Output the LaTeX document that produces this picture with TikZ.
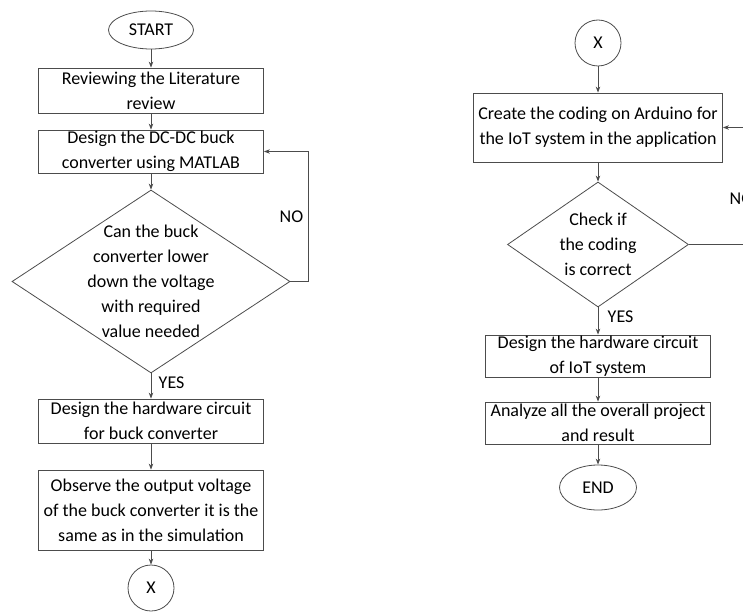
\documentclass[tikz,border=0pt]{standalone}
\usepackage{fontspec}
\setmainfont{Carlito}
\usetikzlibrary{shapes.geometric,arrows.meta}

\begin{document}
\begin{tikzpicture}[x=1pt,y=-1pt,line width=.8pt,
  every node/.style={font=\fontsize{18}{25}\selectfont},
  box/.style={draw=black!70,rectangle,align=center,minimum width=225pt,inner sep=0pt},
  term/.style={draw=black!70,ellipse,inner sep=0pt},
  conn/.style={draw=black!70,circle,minimum size=46pt,inner sep=0pt},
  decision/.style={draw=black!70,diamond,align=center,inner sep=0pt},
  flow/.style={-{Stealth[length=6pt,width=4.5pt]},draw=black!70}]
\useasboundingbox (0,0) rectangle (743,612);
% left column
\node[term,minimum width=85pt,minimum height=38pt] (start) at (151,30) {START};
\node[box,minimum height=45pt] (rev) at (151,90.5) {Reviewing the Literature\\review};
\node[box,minimum height=43pt] (dsg) at (151,151.5) {Design the DC-DC buck\\converter using MATLAB};
\node[decision,inner sep=-10pt,shape aspect=1.52,minimum width=278pt,minimum height=183pt] (chk1) at (151,281.5)
  {Can the buck\\converter lower\\down the voltage\\with required\\value needed};
\node[box,minimum height=44pt] (hw1) at (151,421) {Design the hardware circuit\\for buck converter};
\node[box,minimum height=80pt] (obs) at (151,510) {Observe the output voltage\\of the buck converter it is the\\same as in the simulation};
\node[conn] (xout) at (151,588) {X};
\draw[flow] (start)--(rev);\draw[flow] (rev)--(dsg);\draw[flow] (dsg)--(chk1);
\draw[flow] (chk1)--(hw1);\draw[flow] (hw1)--(obs);\draw[flow] (obs)--(xout);
\draw[flow] (chk1.east)--++(18,0)|-(dsg.east);
\node[anchor=east] (no1) at (307,217) {NO};
\node[anchor=west] (yes1) at (155,383) {YES};
% right column
\node[conn] (xin) at (598,43) {X};
\node[box,minimum width=249pt,minimum height=69pt] (code) at (598,127.5) {Create the coding on Arduino for\\the IoT system in the application};
\node[decision,shape aspect=1.45,minimum width=181pt,minimum height=125pt] (chk2) at (598,244.5) {Check if\\the coding\\is correct};
\node[box,minimum height=42pt] (hw2) at (598,356) {Design the hardware circuit\\of IoT system};
\node[box,minimum height=42pt] (ana) at (598,423) {Analyze all the overall project\\and result};
\node[term,minimum width=77pt,minimum height=45pt] (end) at (598,487.5) {END};
\draw[flow] (xin)--(code);\draw[flow] (code)--(chk2);\draw[flow] (chk2)--(hw2);
\draw[flow] (hw2)--(ana);\draw[flow] (ana)--(end);
\coordinate (edgeA) at (743,244.5);\coordinate (edgeB) at (743,127.5);
\draw[draw=black!70] (chk2.east)--(edgeA);\draw[flow] (edgeB)--(code.east);
\node[anchor=west] (no2) at (726,199) {NO};
\node[anchor=west] (yes2) at (604,317) {YES};
\end{tikzpicture}
\end{document}
